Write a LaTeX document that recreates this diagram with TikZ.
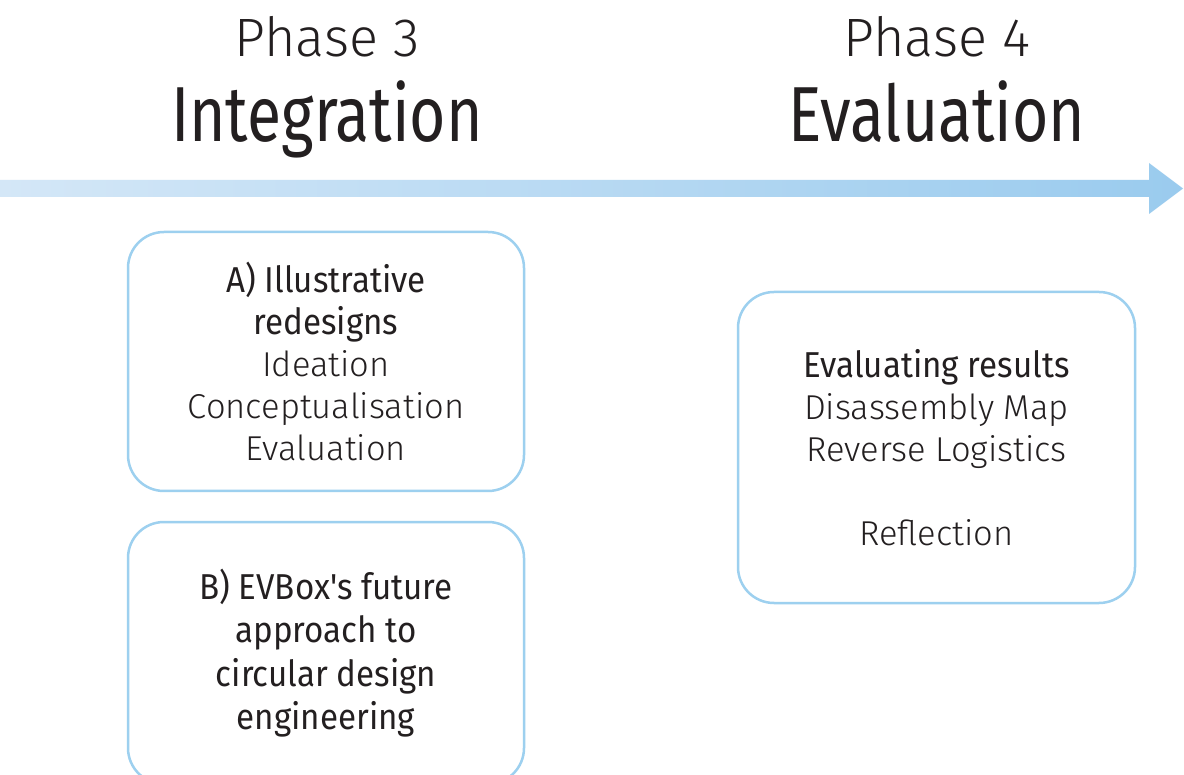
\documentclass[tikz,border=0pt]{standalone}
\usepackage{fontspec}
\setmainfont{Fira Sans Light}
\newfontfamily\condf{Fira Sans}[FakeStretch=0.8]
\newfontfamily\cardf{Fira Sans}[FakeStretch=0.92]
\definecolor{arrowL}{HTML}{D4E7F7}
\definecolor{arrowR}{HTML}{9ACBEE}
\definecolor{boxline}{HTML}{9DD0EF}
\definecolor{textc}{HTML}{231F20}
\tikzset{
  phase/.style={anchor=base, text=textc, inner sep=0pt, font=\fontsize{54}{60}\selectfont},
  title/.style={anchor=base, text=textc, inner sep=0pt, font=\condf\fontsize{78}{90}\selectfont},
  card/.style={draw=boxline, line width=2.5pt, rounded corners=36pt, fill=white,
    text=textc, align=center, inner sep=0pt,
    font=\fontsize{34.5}{42}\selectfont},
  cardbold/.style={font=\cardf\fontsize{36}{43.5}\selectfont},
}
\newcommand{\bl}[1]{{\cardf\fontsize{36}{42}\selectfont #1}}
\begin{document}
\begin{tikzpicture}[x=1pt,y=-1pt]
\useasboundingbox (0,0) rectangle (1184,775);
\fill[white] (0,0) rectangle (1184,775);
% timeline arrow
\shade[left color=arrowL, right color=arrowR]
  (0,180) -- (1149,180) -- (1149,163) -- (1183,188.5) -- (1149,214) -- (1149,197) -- (0,197) -- cycle;
% titles
\node[phase] (p3) at (327,57) {Phase 3};
\node[title] (t3) at (327,142) {Integration};
\node[phase] (p4) at (937,57) {Phase 4};
\node[title] (t4) at (937,142) {Evaluation};
% cards
\node[card, minimum width=396pt, minimum height=259pt] (a) at (326,361.5)
  {\bl{A) Illustrative}\\\bl{redesigns}\\Ideation\\Conceptualisation\\Evaluation};
\node[card, cardbold, minimum width=396pt, minimum height=262pt] (b) at (326,653)
  {B) EVBox's future\\approach to\\circular design\\engineering};
\node[card, minimum width=397pt, minimum height=311pt] (c) at (936.5,447.5)
  {\bl{Evaluating results}\\Disassembly Map\\Reverse Logistics\\[42pt]Reflection};
\end{tikzpicture}
\end{document}
